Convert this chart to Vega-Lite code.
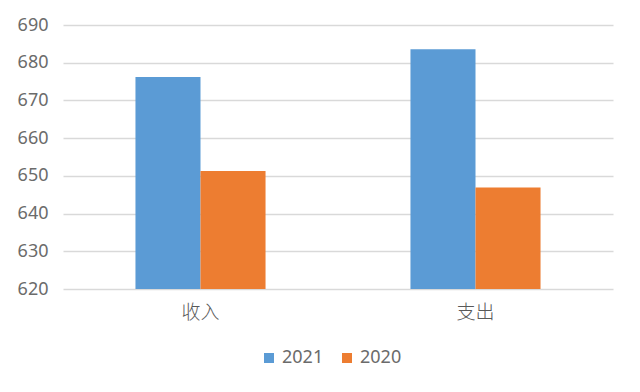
{
  "$schema": "https://vega.github.io/schema/vega-lite/v6.json",
  "width": 550,
  "height": 264,
  "autosize": {"type": "none"},
  "padding": {"left": 63, "top": 25, "right": 27, "bottom": 103},
  "background": "white",
  "data": {
    "values": [
      {"category": "收入", "year": "2021", "value": 676.2},
      {"category": "收入", "year": "2020", "value": 651.3},
      {"category": "支出", "year": "2021", "value": 683.6},
      {"category": "支出", "year": "2020", "value": 646.9}
    ]
  },
  "mark": {"type": "bar", "clip": true},
  "encoding": {
    "x": {
      "field": "category",
      "type": "nominal",
      "sort": ["收入", "支出"],
      "scale": {"paddingInner": 0.527, "paddingOuter": 0.2635},
      "axis": {
        "title": null,
        "labelAngle": 0,
        "domain": false,
        "ticks": false,
        "labelFontSize": 19,
        "labelFontWeight": 300,
        "labelColor": "#595959",
        "labelPadding": 14,
        "labelFont": "Noto Sans CJK SC"
      }
    },
    "xOffset": {"field": "year", "type": "nominal", "sort": ["2021", "2020"], "scale": {"paddingInner": 0}},
    "y": {
      "field": "value",
      "type": "quantitative",
      "scale": {"domain": [620, 690], "zero": false, "nice": false},
      "axis": {
        "title": null,
        "values": [620, 630, 640, 650, 660, 670, 680, 690],
        "domain": false,
        "ticks": false,
        "labelFontSize": 18,
        "labelColor": "#6b6b6b",
        "labelPadding": 15,
        "labelFont": "Noto Sans",
        "gridColor": "#d9d9d9",
        "gridWidth": 1.3
      }
    },
    "color": {
      "field": "year",
      "type": "nominal",
      "scale": {"domain": ["2021", "2020"], "range": ["#5B9BD5", "#ED7D31"]},
      "legend": {
        "title": null,
        "orient": "none",
        "direction": "horizontal",
        "legendX": 197,
        "legendY": 324,
        "symbolType": "square",
        "symbolSize": 100,
        "symbolStrokeWidth": 0,
        "labelFontSize": 18,
        "labelColor": "#6b6b6b",
        "labelFont": "Noto Sans",
        "labelOffset": 4,
        "columnPadding": 14
      }
    }
  },
  "config": {
    "view": {"stroke": null}
  }
}
